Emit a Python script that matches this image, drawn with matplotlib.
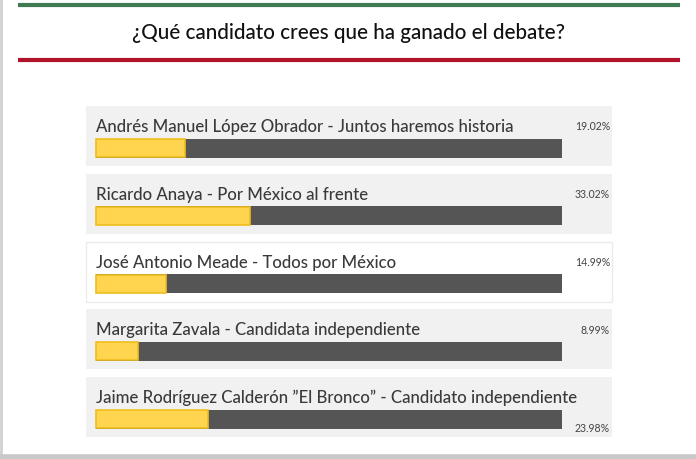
import matplotlib.pyplot as plt
from matplotlib.patches import Rectangle

plt.rcParams['font.family'] = ['Lato', 'DejaVu Sans']

title = "¿Qué candidato crees que ha ganado el debate?"
candidates = [
    "Andrés Manuel López Obrador - Juntos haremos historia",
    "Ricardo Anaya - Por México al frente",
    "José Antonio Meade - Todos por México",
    "Margarita Zavala - Candidata independiente",
    "Jaime Rodríguez Calderón \u201dEl Bronco\u201d - Candidato independiente",
]
percents = [19.02, 33.02, 14.99, 8.99, 23.98]
labels = ["19.02%", "33.02%", "14.99%", "8.99%", "23.98%"]

fig = plt.figure(figsize=(6.96, 4.60), dpi=100)
ax = fig.add_axes([0, 0, 1, 1])
ax.set_xlim(0, 696)
ax.set_ylim(460, 0)
ax.axis('off')

# frame edges
ax.add_patch(Rectangle((0, 0), 696, 460, facecolor='white', edgecolor='none', zorder=0))
ax.plot([1, 1], [0, 460], color='#d0d0d0', lw=2, zorder=1)
ax.plot([0, 696], [458, 458], color='#c8c8c8', lw=4, zorder=1)

# header
ax.plot([18, 680], [5.5, 5.5], color='#3e7a52', lw=3, solid_capstyle='butt')
ax.plot([18, 680], [60.5, 60.5], color='#b0122a', lw=3, solid_capstyle='butt')
ax.text(349, 33, title, ha='center', va='center', fontsize=14.9,
        color='#111111', fontweight='medium')

x0, x1 = 96, 562
row_top = 107
step = 67.8
for i, (name, p, lab) in enumerate(zip(candidates, percents, labels)):
    top = row_top + i * step
    if i == 2:
        ax.add_patch(Rectangle((86, top), 526, 60, facecolor='white',
                               edgecolor='#ebebeb', lw=1, zorder=1))
    else:
        ax.add_patch(Rectangle((86, top), 526, 60, facecolor='#f1f1f1',
                               edgecolor='none', zorder=1))
    ax.text(x0, top + 20, name, ha='left', va='center', fontsize=12.1,
            color='#3a3a3a', fontweight='medium', zorder=3)
    yb = top + 42
    ax.barh(yb, x1 - x0, left=x0, height=19, color='#555555', zorder=2)
    ax.barh(yb, (x1 - x0) * p / 100, left=x0, height=18, color='#ffd54f',
            edgecolor='#efbe1e', lw=1.2, zorder=3)
    ly = top + 20 if i < 4 else top + 50
    ax.text(610, ly, lab, ha='right', va='center', fontsize=7.6, color='#444444', zorder=3)

fig.savefig("out.png", dpi=100)
